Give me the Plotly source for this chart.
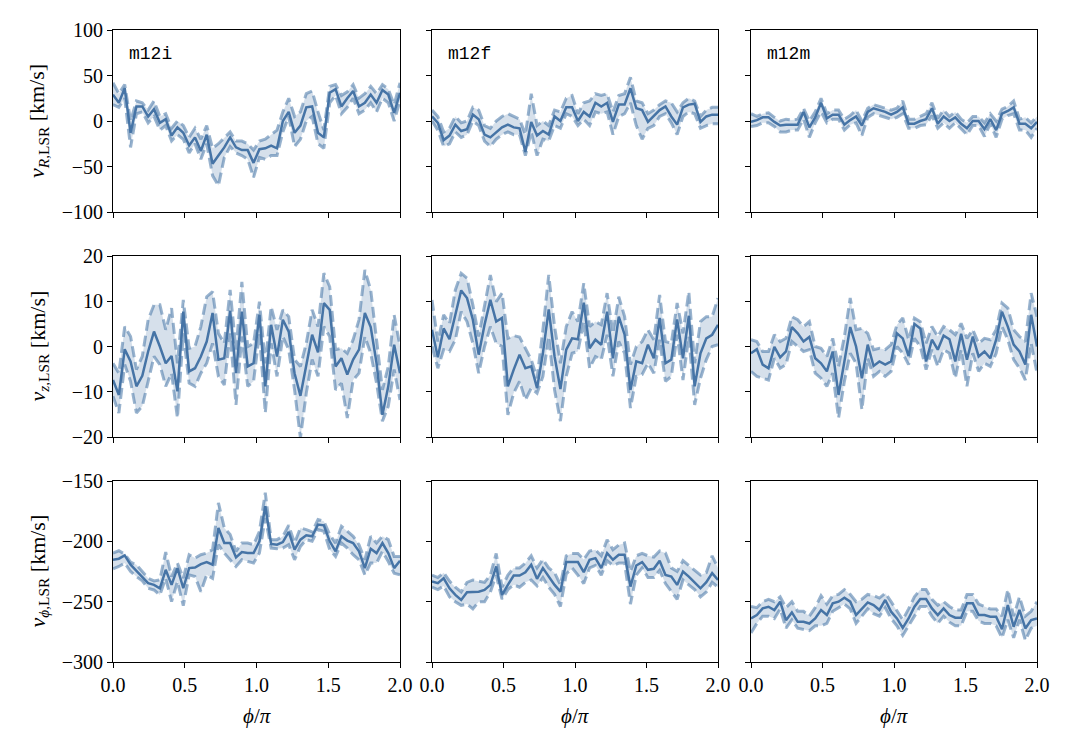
import numpy as np
import plotly.graph_objects as go

phi = np.linspace(0, 2, 50)

# ---- m12i v_R ----
m12i_vR_med = [29,20,36,-13,16,16,5,13,-2,2,-16,-7,-13,-27,-18,-33,-15,-47,-38,-29,-18,-29,-32,-32,-46,-31,-30,-27,-30,0,10,-13,-5,15,16,-13,-18,31,35,16,25,33,16,20,29,20,34,29,9,31]
m12i_vR_hi = [42,30,40,0,22,20,12,22,5,8,-8,0,-5,-18,-8,-20,-5,-30,-25,-18,-12,-22,-22,-25,-32,-22,-20,-15,-10,10,25,5,10,30,33,10,-10,38,40,28,32,40,25,30,38,30,40,35,18,42]
m12i_vR_lo = [18,15,25,-29,8,10,-2,5,-10,-5,-22,-15,-20,-35,-25,-42,-25,-60,-71,-40,-28,-35,-38,-42,-62,-40,-42,-38,-38,-12,5,-28,-20,0,5,-25,-30,20,28,8,15,25,8,12,20,10,25,20,0,22]

# ---- m12f v_R ----
m12f_vR_med = [5,-2,-21,-16,-4,-11,-9,7,2,-15,-18,-13,-7,-4,-7,-8,-34,-1,-16,-11,-15,5,0,15,15,0,10,5,20,16,20,-1,18,18,36,14,12,-1,5,12,16,5,-4,15,18,19,-1,5,7,7]
m12f_vR_hi = [12,5,-12,-8,5,-2,0,15,12,-5,-8,0,5,8,5,2,-15,30,-5,0,-5,12,10,25,28,8,20,22,30,28,30,10,28,30,48,22,20,8,12,18,22,20,10,20,25,22,5,12,15,15]
m12f_vR_lo = [0,-10,-28,-25,-12,-18,-15,0,-5,-22,-28,-20,-15,-12,-15,-15,-38,-12,-38,-20,-22,-5,-8,8,5,-5,2,-5,10,8,10,-15,5,8,20,-5,-20,-8,-5,5,8,-2,-15,5,10,8,-8,-5,-3,-3]

# ---- m12m v_R ----
m12m_vR_med = [-1,1,4,4,-1,-5,-4,-4,-4,10,-7,4,20,3,7,7,-4,1,5,-5,10,14,12,10,7,10,15,-3,-3,0,2,14,-3,5,0,4,-3,-8,0,0,-9,2,-10,8,11,15,-3,-3,-8,-1]
m12m_vR_hi = [8,5,8,9,4,0,2,1,2,14,0,10,25,8,12,12,2,6,12,0,14,18,16,14,12,14,22,2,2,5,8,20,3,12,5,10,2,-2,5,5,-2,8,0,13,16,22,2,4,-2,5]
m12m_vR_lo = [-6,-5,-2,-2,-6,-12,-12,-10,-10,2,-18,-2,10,-2,2,2,-10,-4,-2,-16,4,8,6,4,2,4,8,-8,-8,-5,-4,6,-8,-2,-8,-2,-8,-15,-5,-5,-17,-3,-18,2,6,8,-10,-10,-18,-8]

# ---- m12i v_z ----
m12i_vz_med = [-7.4,-10.7,-0.6,-3.3,-8.8,-6.5,-1.1,3.3,0,-3.7,-2.1,-9.9,7.7,-5.5,-4.8,-2.2,1.1,7.4,-2.9,-2.6,7.9,-5.9,7.7,-4.4,-3.7,7.0,-8.8,4.8,-2.2,5.9,3.3,-5.9,-10.9,-4,2.6,-1.3,9.6,8.1,-4.4,-2.6,-6.2,-2.9,-0.7,7.4,4.3,-3.7,-15.1,-8.8,0.4,-5.9]
m12i_vz_hi = [-3.7,-5.9,4.4,2.2,-5.1,-2.2,5.9,9.2,9.2,3.7,8.5,-3.7,10.3,-0.4,0,4.4,11,12.1,2.9,0.7,12.5,-0.7,14.3,0,0.7,9.9,-3.7,8.8,3.7,8.1,6.6,-2.9,-4.4,0.7,8.1,4.4,16.2,13.2,-0.7,-0.4,-1.5,1.5,5.9,16.9,12.5,1.8,-9.6,-4.4,7,0]
m12i_vz_lo = [-11,-14.7,-4,-7.7,-14.7,-13.2,-7.7,-2.2,-4,-8.8,-5.9,-15.8,2.9,-8.1,-8.8,-5.9,-3.7,0.7,-6.6,-8.5,2.9,-12.9,2.2,-8.8,-7.7,2.9,-14.7,0.7,-6.6,2.2,-0.7,-9.6,-20.2,-10.3,-2.9,-6.6,4.4,2.2,-9.6,-8.1,-15.8,-7.4,-5.9,2.2,-1.5,-8.1,-16.5,-13.2,-5.1,-11.8]

# ---- m12f v_z ----
m12f_vz_med = [3.7,-2.4,4,1.6,7,12.4,10.7,5.9,-1.8,4.8,10.3,5.5,6.3,-8.8,-5.1,-1.8,-4.8,-4.4,-9.2,-1.5,8.2,-2.2,-9.4,-0.7,1.8,1.6,9.7,-0.4,1.5,0.4,7.7,-2.6,6.6,2.6,-9.6,-3.3,-3.7,0.4,-2.6,6.3,-3.7,-2.9,6,-2.6,6.8,-8.8,-1.5,1.8,2.6,4.8]
m12f_vz_hi = [10.3,1.1,7,5.1,12.5,16.2,15.1,9.2,2.2,8.8,15.8,9.9,11.8,1.8,2.4,2.1,-0.4,-2.9,-7,3.7,15.8,4.4,-3.7,4.4,7.7,5.5,14,4.4,5.5,4.8,11.8,2.9,11,6.6,-4,0,1.1,3.7,1.5,11.4,1.1,0.7,9.6,2.9,12.1,-3.7,5.5,6.6,6.6,10.7]
m12f_vz_lo = [0,-4.8,-0.7,-1.1,1.5,7.7,5.5,0.7,-5.9,0,4.4,0.7,0,-15.1,-10.3,-7.7,-11.8,-9.2,-10.3,-6.6,2.2,-9.6,-16.5,-6.6,-1.5,-1.1,5.5,-4.8,-2.2,-2.9,2.6,-6.6,1.1,-1.5,-13.6,-6.6,-6.2,-3.7,-5.9,1.5,-7.7,-6.6,2.6,-7.4,2.2,-12.9,-7,-2.9,0,0.4]

# ---- m12m v_z ----
m12m_vz_med = [-1.5,-0.6,-4,-4.8,-0.1,-2.4,-1.1,4.3,2.9,1.1,2.1,-2.6,-3.7,-5.5,-1.1,-10.7,-3.3,4.3,0,-7,0.4,-4.3,-3.3,-4,-3.3,2.9,1.8,-2.1,5,4,-3.3,1.5,-0.7,2.4,1.6,-3.3,2.8,-2.9,2.2,-2.2,-1.1,-2.6,1.5,7.7,4.4,0.4,-1.1,-4,7,0]
m12m_vz_hi = [1.5,1.1,-1.1,-1.1,2.6,1.1,1.8,6.6,5.9,4.4,5.5,0,-0.4,-2.2,1.8,-4.4,2.2,10.7,3.7,4,2.9,-0.7,-0.4,-0.7,0.4,4.8,6.3,1.5,6.3,5.5,0.7,4.4,2.2,4.4,3.7,2.6,5.1,1.8,3.7,0.7,1.8,1.5,3.7,9.6,8.5,3.7,2.2,1.1,11.8,6.6]
m12m_vz_lo = [-5.5,-6.6,-7,-7.4,-2.6,-4.8,-4,1.1,0,-1.1,-0.7,-5.9,-7,-8.8,-5.9,-15.8,-7.7,-1.5,-3.7,-14,-2.6,-6.6,-5.5,-6.6,-5.5,0,-1.5,-4,1.8,0,-5.1,-0.7,-4.4,-0.7,-1.5,-7,-0.7,-8.8,-1.5,-5.5,-3.7,-4.4,-1.5,4.4,1.5,-2.9,-4.8,-7.4,0.7,-5.9]

# ---- m12i v_phi ----
m12i_vp_med = [-215.3,-214.4,-211.7,-219.4,-224.4,-229.2,-234.7,-236.1,-238.9,-223.6,-236.1,-222.2,-238.9,-222.2,-221.7,-218.9,-217.2,-219.4,-188.9,-201.4,-201.4,-213.3,-208.9,-209.7,-209.7,-200,-170.8,-202.2,-202.8,-200.6,-192.2,-206.9,-198.6,-195,-195.8,-186.1,-186.7,-200,-208.3,-195.8,-199.4,-201.4,-208.3,-222.2,-206.1,-209.7,-201.4,-209.7,-222.2,-216.1]
m12i_vp_hi = [-209.7,-207.8,-210.6,-217.2,-219.4,-225,-230.6,-232.8,-231.9,-208.9,-229.2,-218,-230.6,-211.1,-213.9,-211.1,-209.7,-206.9,-168.1,-188.9,-194.4,-208.3,-201.4,-201.4,-202.8,-191.7,-159.7,-198.6,-198.6,-195.8,-186.7,-201.4,-188.9,-190.3,-192.2,-181.9,-183.3,-194.4,-201.4,-187.5,-191.7,-195.8,-202.8,-215.3,-195.8,-201.4,-195.8,-198.6,-212.5,-212.5]
m12i_vp_lo = [-222.8,-220.8,-218,-225,-229.2,-232.8,-238.9,-240.3,-244.4,-230.6,-250,-233.3,-253.3,-227.8,-229.2,-241.7,-227.8,-230.6,-202.8,-209.7,-215.3,-220.8,-215.3,-216.7,-218,-209.7,-180.6,-205.6,-206.1,-205.6,-202.8,-215.3,-204.2,-198.6,-200,-190.3,-191.7,-206.9,-212.5,-201.4,-205.6,-211.1,-215.3,-227.8,-218,-218,-208.3,-216.7,-226.4,-227.8]

# ---- m12f v_phi ----
m12f_vp_med = [-233.3,-234.7,-230.6,-238.9,-244.4,-248.6,-242.2,-242.2,-241.7,-240.3,-236.1,-220.8,-244.4,-236.1,-228.3,-228.3,-225.6,-219.4,-231.1,-222.2,-229.2,-236.1,-241.7,-217.2,-217.2,-217.2,-225.6,-215.3,-213.9,-222.2,-209.7,-215.3,-211.1,-211.1,-237.5,-220,-217.2,-223.6,-222.8,-216.1,-227.8,-229.2,-236.1,-225,-229.2,-233.9,-238.9,-233.9,-226.4,-231.9]
m12f_vp_hi = [-228,-230,-226,-233,-238,-242,-234,-232,-233,-234,-228,-210,-238,-228,-222,-222,-218,-212,-222,-215,-222,-226,-236,-212,-210,-210,-215,-208,-207,-212,-198.6,-207,-203,-201.4,-225,-212,-210,-212,-213,-208,-209.7,-222,-225,-216,-220,-224,-228,-226,-212,-222]
m12f_vp_lo = [-238,-240,-237,-246,-250,-253,-252,-256,-250,-250,-242,-228,-248,-240,-236,-238,-234,-232,-237,-230,-238,-244,-254,-227,-222,-228,-235,-222,-220,-228,-216,-220,-218,-218,-252,-228,-222,-230,-230,-224,-235,-242,-248,-232,-236,-240,-246,-242,-234,-238]

# ---- m12m v_phi ----
m12m_vp_med = [-263.9,-261.1,-255.6,-254.2,-256.9,-250,-265.3,-258.9,-266.7,-266.7,-268.1,-263.9,-256.9,-261.1,-251.4,-250,-246.7,-250,-261.1,-255.6,-250.6,-252.8,-256.9,-248.6,-258.3,-263.9,-271.7,-263.9,-254.2,-247.8,-247.8,-255.6,-261.1,-255.6,-261.1,-263.3,-263.3,-251.4,-251.4,-261.1,-261.1,-262.5,-262.5,-272.8,-252.8,-270.8,-256.9,-272.2,-265.3,-263.9]
m12m_vp_hi = [-254,-255,-250,-248,-250,-246,-255,-250,-258,-258,-262,-255,-245,-252,-245,-244,-240,-244,-250,-248,-244,-245,-247,-243,-250,-258,-265,-256,-246,-240,-240,-248,-253,-250,-254,-257,-257,-244,-244,-252,-254,-256,-256,-262,-240,-262,-246,-262,-258,-250]
m12m_vp_lo = [-276,-268,-262,-262,-264,-256,-272,-265,-272,-273,-274,-270,-270,-268,-258,-255,-252,-256,-268,-262,-256,-260,-262,-255,-264,-270,-278,-270,-262,-254,-254,-262,-268,-262,-267,-270,-270,-258,-258,-266,-268,-268,-270,-280,-265,-280,-265,-282,-272,-270]

sim_labels = ["m12i", "m12f", "m12m"]
y_titles = ["<i>v</i><sub><i>R</i>,LSR</sub> [km/s]",
            "<i>v</i><sub><i>z</i>,LSR</sub> [km/s]",
            "<i>v</i><sub><i>ϕ</i>,LSR</sub> [km/s]"]
y_ranges = [[-100, 100], [-20, 20], [-300, -150]]
y_dticks = [50, 10, 50]
x_ticks = [0.0, 0.5, 1.0, 1.5, 2.0]

panels = [
    (m12i_vR_med, m12i_vR_lo, m12i_vR_hi), (m12f_vR_med, m12f_vR_lo, m12f_vR_hi), (m12m_vR_med, m12m_vR_lo, m12m_vR_hi),
    (m12i_vz_med, m12i_vz_lo, m12i_vz_hi), (m12f_vz_med, m12f_vz_lo, m12f_vz_hi), (m12m_vz_med, m12m_vz_lo, m12m_vz_hi),
    (m12i_vp_med, m12i_vp_lo, m12i_vp_hi), (m12f_vp_med, m12f_vp_lo, m12f_vp_hi), (m12m_vp_med, m12m_vp_lo, m12m_vp_hi),
]

W, H = 1065, 750
colx = [(113, 400), (432, 718), (751, 1037)]
rowy = [(30, 212), (256, 437), (481, 662)]

MAIN = "rgb(70,116,166)"
BAND = "rgba(70,116,166,0.55)"
FILL = "rgba(70,116,166,0.22)"
SERIF = "Liberation Serif"

fig = go.Figure()
layout = dict(width=W, height=H, autosize=False,
              margin=dict(l=0, r=0, t=0, b=0, pad=0, autoexpand=False),
              paper_bgcolor="white", plot_bgcolor="white", showlegend=False,
              font=dict(family=SERIF, size=20, color="black"))
annotations = []

for i, (med, lo, hi) in enumerate(panels):
    r, c = divmod(i, 3)
    n = i + 1
    suf = "" if n == 1 else str(n)
    xa, ya = f"x{suf}", f"y{suf}"
    fig.add_trace(go.Scatter(x=phi, y=lo, mode="lines", xaxis=xa, yaxis=ya,
                             line=dict(color=BAND, width=3, dash="11px,5px"), hoverinfo="skip"))
    fig.add_trace(go.Scatter(x=phi, y=hi, mode="lines", xaxis=xa, yaxis=ya, fill="tonexty",
                             fillcolor=FILL, line=dict(color=BAND, width=3, dash="11px,5px"), hoverinfo="skip"))
    fig.add_trace(go.Scatter(x=phi, y=med, mode="lines", xaxis=xa, yaxis=ya,
                             line=dict(color=MAIN, width=2.5)))
    x0, x1 = colx[c]
    y0, y1 = rowy[r]
    common = dict(ticks="outside", ticklen=5, tickwidth=1, tickcolor="black",
                  showline=True, linecolor="black", linewidth=1, mirror=True,
                  showgrid=False, zeroline=False, automargin=False,
                  tickfont=dict(family=SERIF, size=20, color="black"))
    layout[f"xaxis{suf}"] = dict(domain=[x0 / W, x1 / W], anchor=ya, range=[0, 2],
                                 tickvals=x_ticks, ticktext=[f"{v:.1f}" for v in x_ticks],
                                 showticklabels=(r == 2), **common)
    layout[f"yaxis{suf}"] = dict(domain=[1 - y1 / H, 1 - y0 / H], anchor=xa, range=y_ranges[r],
                                 dtick=y_dticks[r], tick0=0,
                                 showticklabels=(c == 0), **common)
    if r == 0:
        annotations.append(dict(text=sim_labels[c], xref=f"{xa} domain", yref=f"{ya} domain",
                                x=0.05, y=0.87, xanchor="left", yanchor="middle", showarrow=False,
                                font=dict(family="Liberation Mono", size=18, color="black")))
    if r == 2:
        annotations.append(dict(text="<i>ϕ</i>/<i>π</i>", xref="paper", yref="paper",
                                x=(x0 + x1) / 2 / W, y=1 - 716 / H, xanchor="center", yanchor="middle",
                                showarrow=False, font=dict(family=SERIF, size=21, color="black")))
    if c == 0:
        annotations.append(dict(text=y_titles[r], xref="paper", yref="paper",
                                x=38 / W, y=1 - (y0 + y1) / 2 / H, xanchor="center", yanchor="middle",
                                textangle=-90, showarrow=False,
                                font=dict(family=SERIF, size=22, color="black")))

layout["annotations"] = annotations
fig.update_layout(**layout)
fig.write_html("out.html",
               post_script="document.body.style.margin='0';document.body.style.overflow='hidden';")
